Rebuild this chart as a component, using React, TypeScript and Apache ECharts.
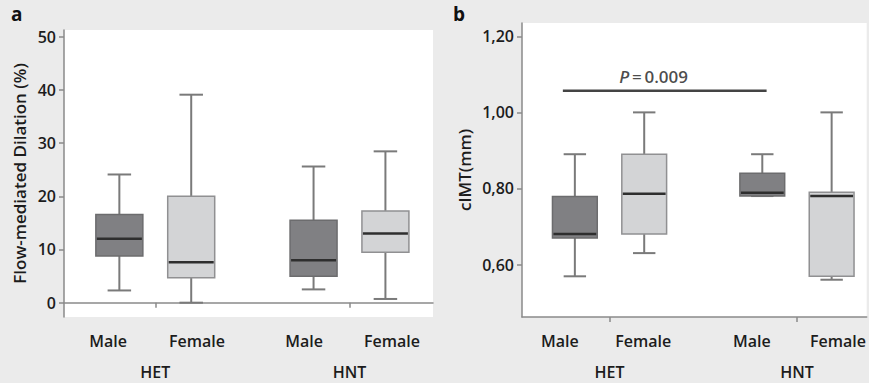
import React, { useEffect, useRef } from "react";
import * as echarts from "echarts";

// ---------- data ----------
const categories = ["Male", "Female", "Male", "Female"];
const groups = ["HET", "HNT"];
// each row: [lower whisker, Q1, median, Q3, upper whisker]
const fmdValues = [
  [2.3, 8.8, 12.0, 16.6, 24.1],
  [0.0, 4.7, 7.6, 20.0, 39.1],
  [2.5, 4.95, 8.0, 15.5, 25.6],
  [0.7, 9.5, 13.0, 17.25, 28.45],
];
const cimtValues = [
  [0.569, 0.67, 0.68, 0.779, 0.89],
  [0.63, 0.68, 0.786, 0.89, 1.0],
  [0.78, 0.78, 0.789, 0.84, 0.89],
  [0.56, 0.569, 0.78, 0.79, 1.0],
];
const fmdTicks = [0, 10, 20, 30, 40, 50];
const cimtTicks = [0.6, 0.8, 1.0, 1.2];
const pValueText = "0.009";
const sigBarLevel = 1.057;

// ---------- layout ----------
const groupPos = [1, 2];
const boxOffset = 0.185;
const boxPos = [1 - boxOffset, 1 + boxOffset, 2 - boxOffset, 2 + boxOffset];
const labelPosA = [0.757, 1.215, 1.766, 2.219];
const labelPosB = [0.735, 1.18, 1.759, 2.219];

const FONT = "Open Sans";
const AXIS_GRAY = "#8a8a8a";
const DARK_FILL = "#808083";
const DARK_STROKE = "#6c6c6e";
const LIGHT_FILL = "#d3d4d6";
const LIGHT_STROKE = "#909092";
const WHISKER = "#7a7a7a";
const MEDIAN = "#2e2e2e";

function boxSeries(xAxisIndex: number, yAxisIndex: number, values: number[][], boxWidth: number) {
  return {
    type: "custom",
    xAxisIndex,
    yAxisIndex,
    silent: true,
    clip: false,
    data: values.map((v, i) => [boxPos[i], ...v]),
    renderItem: (params: any, api: any) => {
      const x = api.value(0);
      const lo = api.coord([x, api.value(1)]);
      const q1 = api.coord([x, api.value(2)]);
      const med = api.coord([x, api.value(3)]);
      const q3 = api.coord([x, api.value(4)]);
      const hi = api.coord([x, api.value(5)]);
      const w = api.size([boxWidth, 0])[0];
      const cx = lo[0];
      const dark = params.dataIndex % 2 === 0;
      const wStyle = { stroke: WHISKER, lineWidth: 2 };
      return {
        type: "group",
        children: [
          { type: "line", shape: { x1: cx, y1: q3[1], x2: cx, y2: hi[1] }, style: wStyle },
          { type: "line", shape: { x1: cx, y1: q1[1], x2: cx, y2: lo[1] }, style: wStyle },
          { type: "line", shape: { x1: cx - w / 4, y1: hi[1], x2: cx + w / 4, y2: hi[1] }, style: wStyle },
          { type: "line", shape: { x1: cx - w / 4, y1: lo[1], x2: cx + w / 4, y2: lo[1] }, style: wStyle },
          {
            type: "rect",
            shape: { x: cx - w / 2, y: q3[1], width: w, height: q1[1] - q3[1] },
            style: { fill: dark ? DARK_FILL : LIGHT_FILL, stroke: dark ? DARK_STROKE : LIGHT_STROKE, lineWidth: 1.5 },
          },
          {
            type: "line",
            shape: { x1: cx - w / 2 + 1, y1: med[1], x2: cx + w / 2 - 1, y2: med[1] },
            style: { stroke: MEDIAN, lineWidth: 2.5 },
          },
        ],
      };
    },
  };
}

function nearestLabel(v: number, positions: number[], labels: string[]) {
  let best = 0;
  positions.forEach((p, i) => {
    if (Math.abs(p - v) < Math.abs(positions[best] - v)) best = i;
  });
  return labels[best];
}

const tickLabelStyle = { color: "#1c1c1c", fontFamily: FONT, fontSize: 16, fontWeight: 600 };
const nameStyle = { color: "#1c1c1c", fontFamily: FONT, fontSize: 17, fontWeight: 600 };

function catAxes(gridIndex: number, min: number, max: number, labelPos: number[]) {
  return [
    {
      type: "value",
      gridIndex,
      position: "bottom",
      min,
      max,
      axisLine: { show: true, lineStyle: { color: AXIS_GRAY, width: 1.5 } },
      axisTick: { show: true, customValues: groupPos, length: 5, lineStyle: { color: AXIS_GRAY, width: 1.5 } },
      axisLabel: {
        ...tickLabelStyle,
        margin: 16,
        customValues: labelPos,
        formatter: (v: number) => nearestLabel(v, labelPos, categories),
      },
      splitLine: { show: false },
    },
    {
      type: "value",
      gridIndex,
      position: "bottom",
      min,
      max,
      axisLine: { show: false },
      axisTick: { show: false },
      axisLabel: {
        ...tickLabelStyle,
        margin: 47,
        customValues: groupPos,
        formatter: (v: number) => nearestLabel(v, groupPos, groups),
      },
      splitLine: { show: false },
    },
  ];
}

export default function App() {
  const ref = useRef<HTMLDivElement>(null);
  useEffect(() => {
    if (!ref.current) return;
    const chart = echarts.init(ref.current, undefined, { renderer: "svg" });
    const option: any = {
      animation: false,
      backgroundColor: "#ebebeb",
      textStyle: { fontFamily: FONT },
      grid: [
        { left: 64, top: 30, width: 369, height: 287, show: true, backgroundColor: "#ffffff", borderWidth: 0 },
        { left: 522, top: 23, width: 347, height: 294, show: true, backgroundColor: "#ffffff", borderWidth: 0 },
      ],
      xAxis: [...catAxes(0, 0.53, 2.43, labelPosA), ...catAxes(1, 0.533, 2.372, labelPosB)],
      yAxis: [
        {
          type: "value",
          gridIndex: 0,
          min: -2.69,
          max: 51.26,
          name: "Flow-mediated Dilation (%)",
          nameLocation: "middle",
          nameGap: 36,
          nameTextStyle: nameStyle,
          axisLine: { show: true, lineStyle: { color: AXIS_GRAY, width: 1.5 } },
          axisTick: { show: true, customValues: fmdTicks, length: 5, lineStyle: { color: AXIS_GRAY, width: 1.5 } },
          axisLabel: { ...tickLabelStyle, margin: 8, customValues: fmdTicks },
          splitLine: { show: false },
        },
        {
          type: "value",
          gridIndex: 1,
          min: 0.462,
          max: 1.235,
          name: "cIMT(mm)",
          nameLocation: "middle",
          nameGap: 49,
          nameTextStyle: nameStyle,
          axisLine: { show: true, lineStyle: { color: AXIS_GRAY, width: 1.5 } },
          axisTick: { show: true, customValues: cimtTicks, length: 5, lineStyle: { color: AXIS_GRAY, width: 1.5 } },
          axisLabel: {
            ...tickLabelStyle,
            margin: 8,
            customValues: cimtTicks,
            formatter: (v: number) => v.toFixed(2).replace(".", ","),
          },
          splitLine: { show: false },
        },
      ],
      series: [
        boxSeries(0, 0, fmdValues, 0.242),
        boxSeries(2, 1, cimtValues, 0.239),
        {
          type: "line",
          xAxisIndex: 2,
          yAxisIndex: 1,
          symbol: "none",
          silent: true,
          lineStyle: { color: "#444444", width: 2.5 },
          data: [
            [0.751, sigBarLevel],
            [1.838, sigBarLevel],
          ],
        },
        {
          type: "scatter",
          xAxisIndex: 2,
          yAxisIndex: 1,
          symbolSize: 0,
          silent: true,
          data: [[1.235, 1.0935]],
          label: {
            show: true,
            position: "inside",
            formatter: "{i|P}{n|\u2009=\u2009" + pValueText + "}",
            rich: {
              i: { fontFamily: FONT, fontSize: 17, fontWeight: 600, fontStyle: "italic", color: "#1c1c1c" },
              n: { fontFamily: FONT, fontSize: 17, fontWeight: 600, color: "#1c1c1c" },
            },
          },
        },
      ],
      graphic: [
        { type: "text", left: 11, top: 4, style: { text: "a", fontFamily: FONT, fontSize: 19, fontWeight: 700, fill: "#111" } },
        { type: "text", left: 453, top: 4, style: { text: "b", fontFamily: FONT, fontSize: 19, fontWeight: 700, fill: "#111" } },
      ],
    };
    chart.setOption(option);
    return () => chart.dispose();
  }, []);
  return (
    <div
      ref={ref}
      style={{ position: "fixed", left: 0, top: 0, width: 869, height: 383, background: "#ebebeb" }}
    />
  );
}
